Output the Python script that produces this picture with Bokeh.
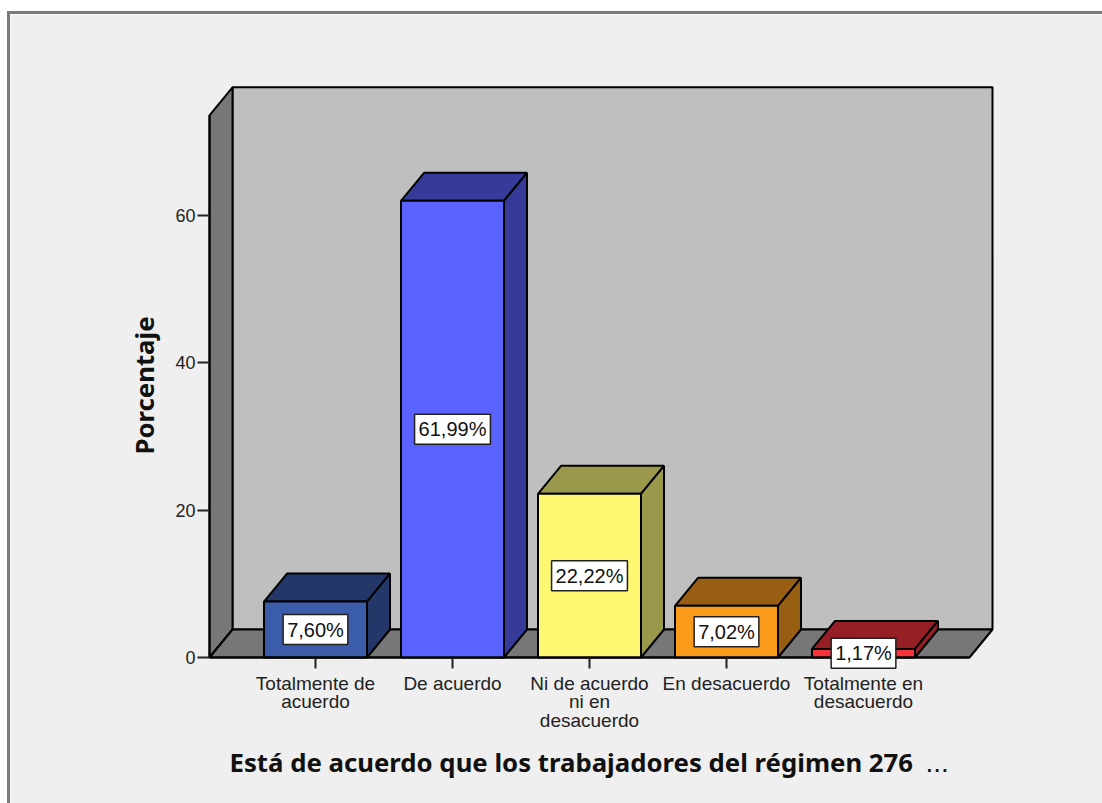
from bokeh.plotting import figure
from bokeh.models import Range1d, FixedTicker, Label
from bokeh.embed import file_html
from bokeh.resources import INLINE
import numpy as np

categories = ["Totalmente de\nacuerdo", "De acuerdo", "Ni de acuerdo\nni en\ndesacuerdo", "En desacuerdo", "Totalmente en\ndesacuerdo"]
values = [7.60, 61.99, 22.22, 7.02, 1.17]
labels = ["7,60%", "61,99%", "22,22%", "7,02%", "1,17%"]
y_ticks = [0, 20, 40, 60]
front_colors = ["#3b5ca8", "#5a62ff", "#fdf772", "#fb9b1c", "#f5333a"]
shade_colors = ["#233769", "#363a99", "#9a984a", "#985e11", "#951f25"]

FONT = "Liberation Sans"
TITLE_FONT = "Noto Sans"
W, H = 1092, 789
PX_X = 137.0
PX_Y = 7.367
DX, DY = 23 / PX_X, 28 / PX_Y
BW = 103 / PX_X

x0 = -106 / PX_X
x_back = x0 + DX
x_floor_end = 654 / PX_X
x_end = x_floor_end + DX
y_top = 73.6

# The frame fills the whole figure so nothing is clipped; the axes are pinned inside it.
p = figure(width=W, height=H, output_backend="svg", toolbar_location=None,
           x_range=Range1d(x0 - 199 / PX_X, x0 + (W - 199) / PX_X),
           y_range=Range1d(-146 / PX_Y, (H - 146) / PX_Y),
           min_border=0, margin=(14, 0, 0, 10),
           styles={"box-shadow": "-3px -3px 0 0 #7a7a7a, 0 -3px 0 0 #7a7a7a, -3px 0 0 0 #7a7a7a"})
p.border_fill_color = "#efefef"
p.background_fill_color = "#efefef"
p.outline_line_color = None
p.grid.visible = False

# walls and floor
p.patch([x_back, x_end, x_end, x_back], [DY, DY, y_top + DY, y_top + DY], fill_color="#bfbfbf", line_color="black", line_width=2)
p.patch([x0, x_back, x_back, x0], [0, DY, y_top + DY, y_top], fill_color="#777777", line_color="black", line_width=2)
p.patch([x0, x_back, x_end, x_floor_end], [0, DY, DY, 0], fill_color="#777777", line_color="black", line_width=2)

# bars
xs = np.arange(len(values), dtype=float)
v = np.array(values)
left, right = xs - BW / 2, xs + BW / 2
p.patches([[a, a + DX, b + DX, b] for a, b in zip(left, right)],
          [[t, t + DY, t + DY, t] for t in v],
          fill_color=shade_colors, line_color="black", line_width=2)
p.patches([[b, b + DX, b + DX, b] for b in right],
          [[0, DY, t + DY, t] for t in v],
          fill_color=shade_colors, line_color="black", line_width=2)
p.quad(left=left, right=right, bottom=0, top=v, fill_color=front_colors, line_color="black", line_width=2)

# value labels
for x, t, s in zip(xs, v, labels):
    p.add_layout(Label(x=x, y=t / 2, text=s, text_font=FONT, text_font_size="20px", text_color="#111111",
                       text_align="center", text_baseline="middle", padding=(4, 4),
                       background_fill_color="white", border_line_color="#222222", border_line_width=1.5))

# axes
xa, ya = p.xaxis[0], p.yaxis[0]
xa.fixed_location = 0
ya.fixed_location = x0
xa.ticker = FixedTicker(ticks=list(xs))
xa.major_label_overrides = {float(i): c for i, c in enumerate(categories)}
xa.bounds = (x0, x_floor_end)
xa.major_tick_out = 11
xa.major_tick_in = 0
xa.minor_tick_line_color = None
xa.major_tick_line_color = "#222222"
xa.major_tick_line_width = 2
xa.axis_line_color = "black"
xa.axis_line_width = 2
xa.major_label_text_font = FONT
xa.major_label_text_font_size = "19px"
xa.major_label_text_line_height = 0.9
xa.major_label_text_color = "#222222"
xa.major_label_standoff = 4
ya.ticker = FixedTicker(ticks=y_ticks)
ya.bounds = (0, y_top)
ya.major_tick_out = 12
ya.major_tick_in = 0
ya.minor_tick_line_color = None
ya.major_tick_line_color = "#222222"
ya.major_tick_line_width = 2
ya.axis_line_color = "black"
ya.axis_line_width = 2
ya.major_label_text_font = FONT
ya.major_label_text_font_size = "18px"
ya.major_label_text_color = "#222222"
ya.major_label_standoff = 2

# titles (screen units are measured from the frame's lower left corner)
p.add_layout(Label(x=219, y=42, x_units="screen", y_units="screen",
                   text="Está de acuerdo que los trabajadores del régimen 276",
                   text_font=TITLE_FONT, text_font_size="25.75px", text_font_style="bold", text_color="#111111",
                   text_baseline="middle"))
p.add_layout(Label(x=915, y=41, x_units="screen", y_units="screen", text="...",
                   text_font=FONT, text_font_size="28px", text_color="#111111", text_baseline="alphabetic"))
p.add_layout(Label(x=133, y=418, x_units="screen", y_units="screen",
                   text="Porcentaje", angle=90, angle_units="deg", text_align="center", text_baseline="middle",
                   text_font=TITLE_FONT, text_font_size="25.75px", text_font_style="bold", text_color="#111111"))

open("out.html", "w").write(file_html(p, INLINE))
